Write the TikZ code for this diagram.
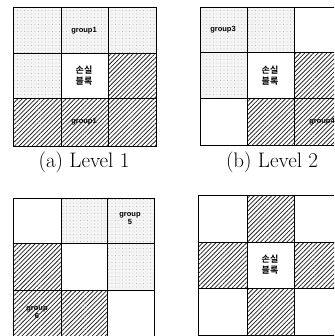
\documentclass[tikz,border=0pt]{standalone}
\usepackage{fontspec}
\newfontfamily\kr{Noto Sans CJK KR}[BoldFont={Noto Sans CJK KR Bold}]
\newfontfamily\lab{Liberation Sans}
\usetikzlibrary{patterns,patterns.meta}
\begin{document}
\begin{tikzpicture}[x=1pt,y=-1pt,
  dotcell/.style={fill=gray!9, postaction={pattern={Dots[distance=3.5pt,radius=0.35pt]}, pattern color=gray!75}},
  hatchcell/.style={pattern={Lines[angle=45,distance=3.1pt,line width=0.8pt]}, pattern color=black!85},
  gridline/.style={line width=1pt},
  grp/.style={font=\lab\bfseries\fontsize{7.5}{8}\selectfont, inner sep=0.5pt, align=center},
  lost/.style={font=\kr\bfseries\fontsize{9}{11}\selectfont, align=center, inner sep=0pt},
  captext/.style={font=\fontsize{21}{24}\selectfont, inner sep=0pt}]
\useasboundingbox (0,0) rectangle (334,336);
\clip (0,0) rectangle (334,336);
% ---------- (a) Level 1
\path[dotcell] (13,8) rectangle (156,54);
\path[dotcell] (13,54) rectangle (61,99);
\path[hatchcell] (108,54) rectangle (156,99);
\path[hatchcell] (13,99) rectangle (156,147);
\draw[gridline] (13,8) rectangle (156,147);
\draw[gridline] (61,8) -- (61,147) (108,8) -- (108,147) (13,54) -- (156,54) (13,99) -- (156,99);
\node[grp] (a1) at (84,31) {group1};
\node[lost] (al) at (84,76) {손실\\블록};
\node[grp] (a2) at (84,122) {group1};
\node[captext] (ca) at (84,162) {(a) Level 1};
% ---------- (b) Level 2
\path[dotcell] (200,8) rectangle (294,53);
\path[dotcell] (200,53) rectangle (247,99);
\path[hatchcell] (294,53) rectangle (341,99);
\path[hatchcell] (247,99) rectangle (341,146);
\draw[gridline] (200,8) rectangle (341,146);
\draw[gridline] (247,8) -- (247,146) (294,8) -- (294,146) (200,53) -- (341,53) (200,99) -- (341,99);
\node[grp] (b3) at (223,30) {group3};
\node[lost] (bl) at (270,76) {손실\\블록};
\node[grp] (b4) at (322,122) {group4};
\node[captext] (cb) at (272,162) {(b) Level 2};
% ---------- (c) Level 3
\path[dotcell] (61,198) rectangle (154,243);
\path[dotcell] (107,243) rectangle (154,290);
\path[hatchcell] (13,243) rectangle (61,290);
\path[hatchcell] (13,290) rectangle (107,337);
\draw[gridline] (13,198) rectangle (154,337);
\draw[gridline] (61,198) -- (61,337) (107,198) -- (107,337) (13,243) -- (154,243) (13,290) -- (154,290);
\node[grp] (c5) at (130,219) {group\\5};
\node[grp] (c6) at (37,313) {group\\6};
% ---------- (d) Level 4
\path[hatchcell] (247,195) rectangle (294,242);
\path[hatchcell] (198,242) rectangle (247,288);
\path[hatchcell] (294,242) rectangle (341,288);
\path[hatchcell] (247,288) rectangle (294,335);
\draw[gridline] (198,195) rectangle (341,335);
\draw[gridline] (247,195) -- (247,335) (294,195) -- (294,335) (198,242) -- (341,242) (198,288) -- (341,288);
\node[lost] (dl) at (270,265) {손실\\블록};
\end{tikzpicture}
\end{document}
